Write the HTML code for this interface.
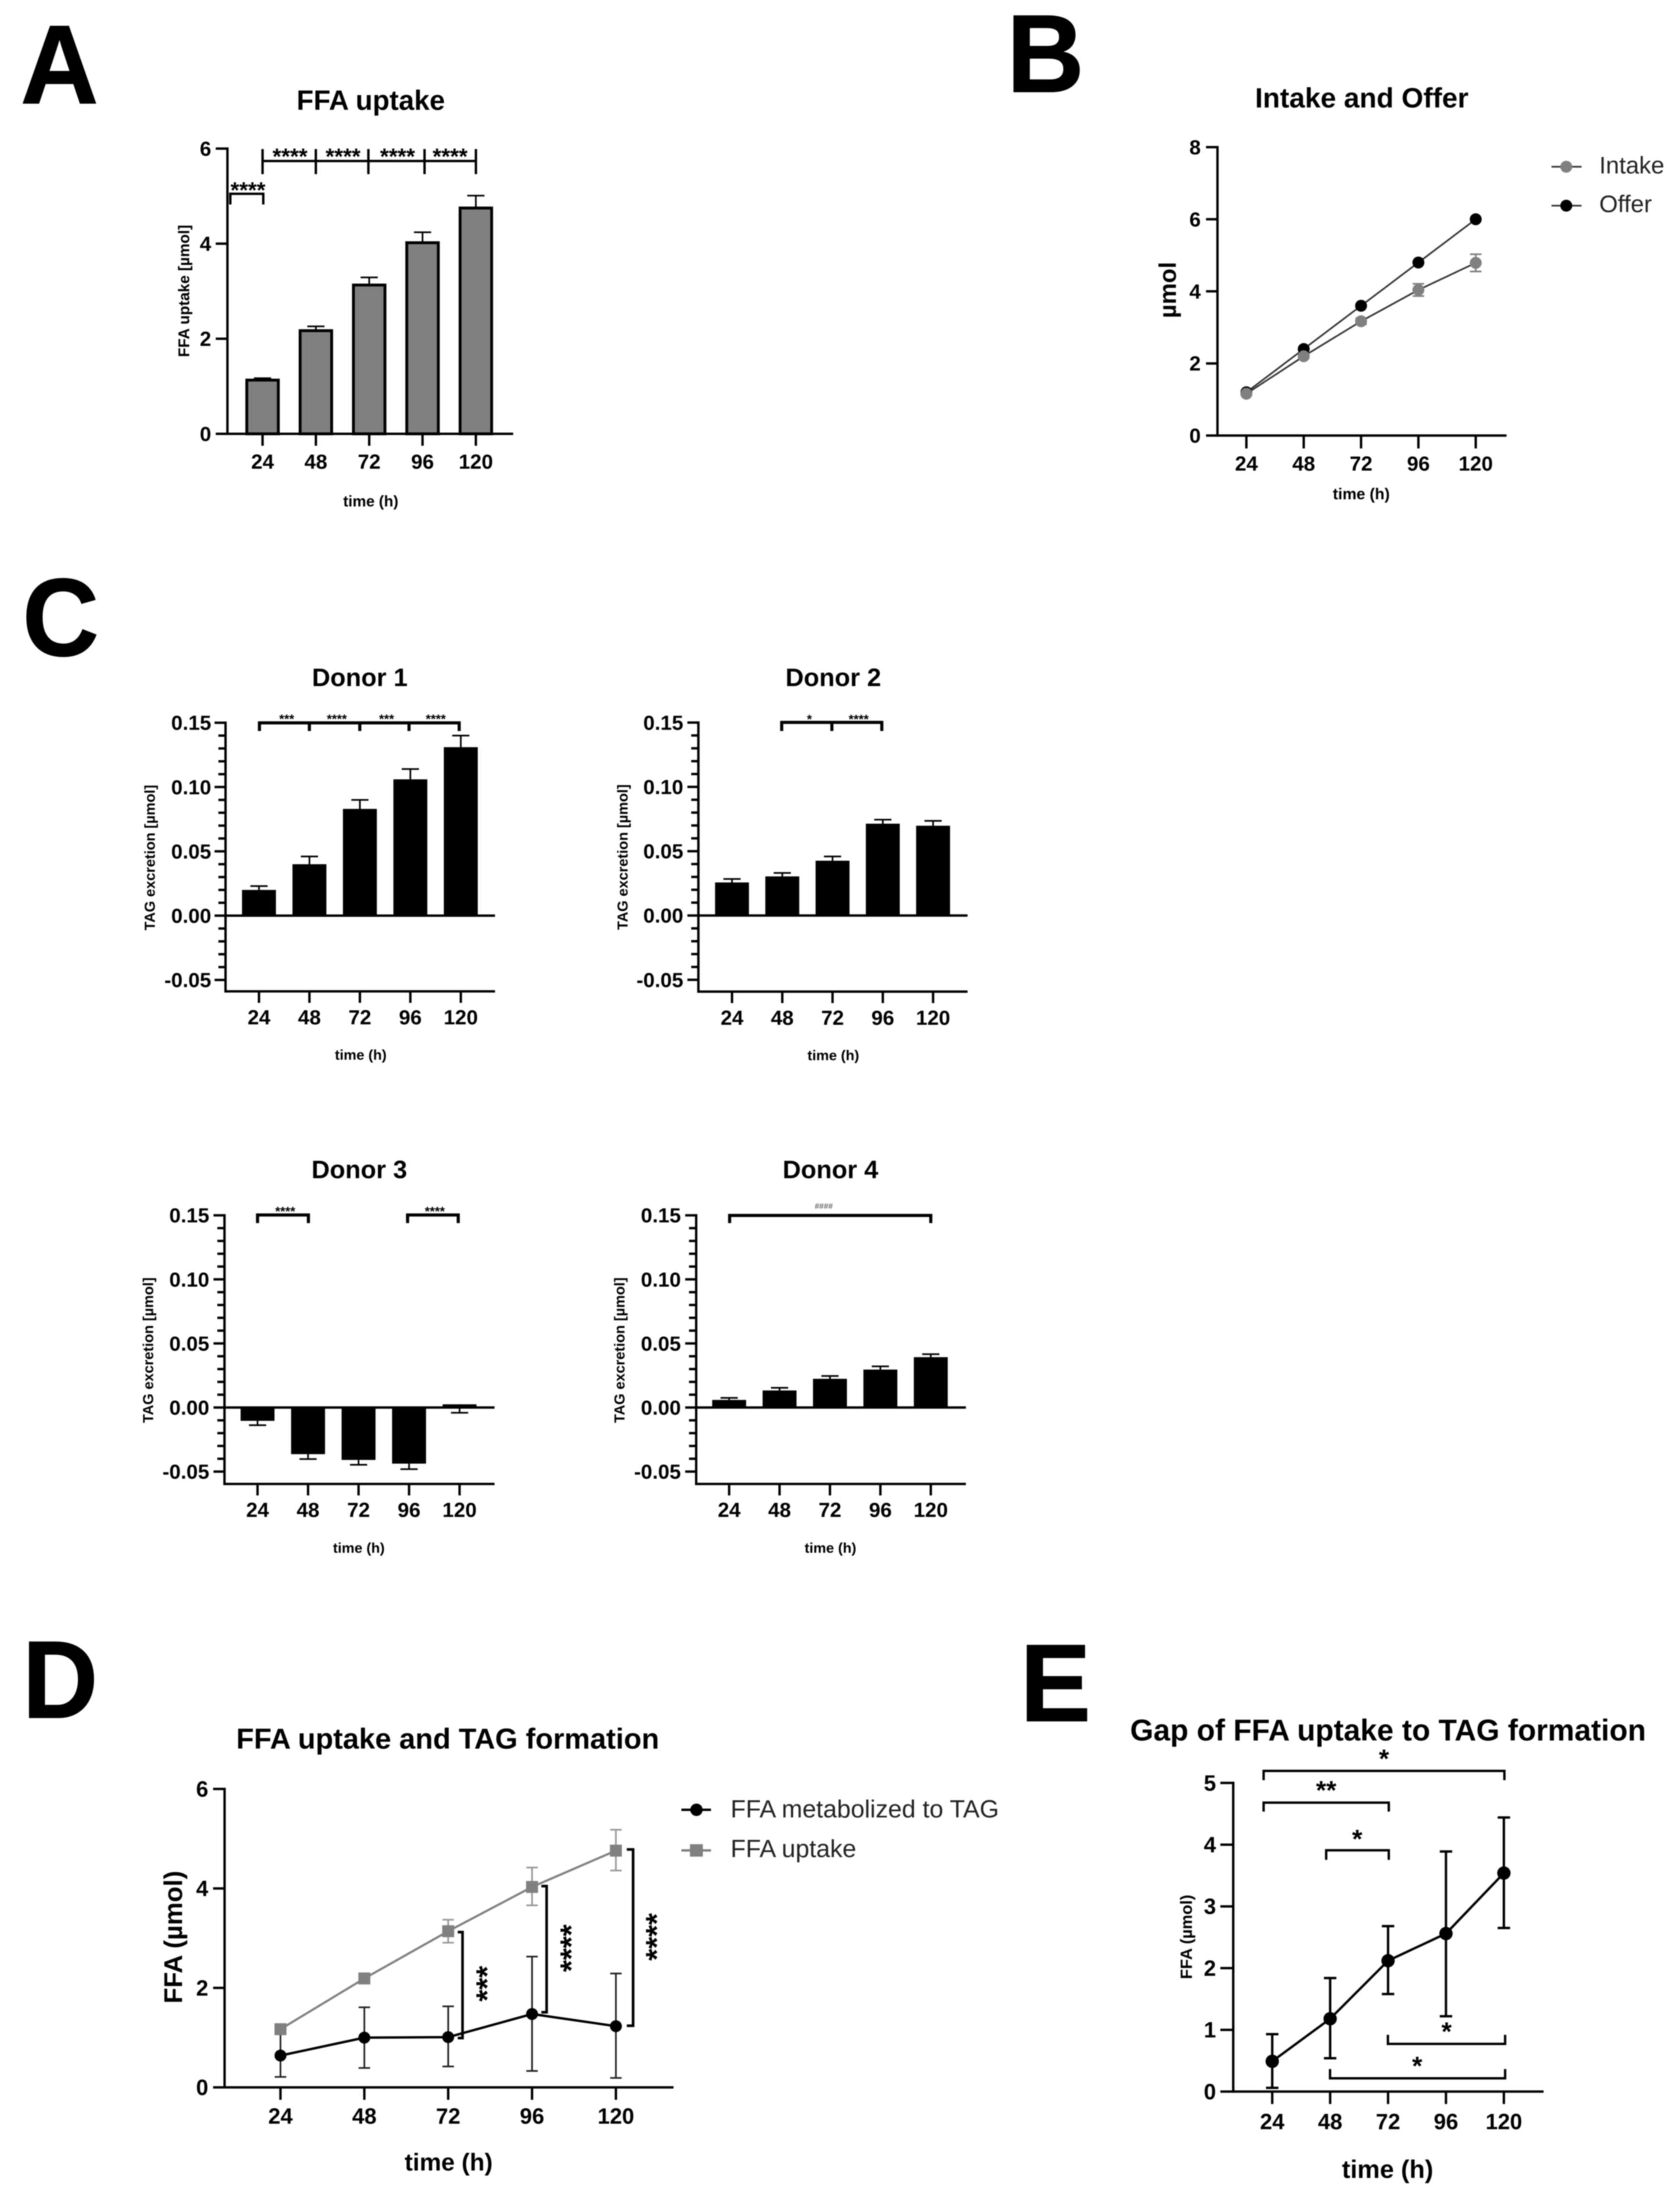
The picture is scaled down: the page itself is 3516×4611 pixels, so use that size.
<!DOCTYPE html>
<html lang="en">
<head>
<meta charset="utf-8">
<title>FFA uptake and TAG formation figure</title>
<style>
html,body{margin:0;padding:0;background:#fff}
#figure{display:block;filter:blur(1px)}
text{font-family:"Liberation Sans",sans-serif;font-weight:700;fill:#000}
.reg{font-weight:400;fill:#222}
.brk{fill:none;stroke:#000;stroke-width:5;stroke-linecap:butt;stroke-linejoin:miter}
.brk-thin{fill:none;stroke:#000;stroke-width:6.5}
.brk-d{fill:none;stroke:#000;stroke-width:5.5}
.letter{stroke:#000;stroke-width:2}
</style>
</head>
<body>
<svg id="figure" xmlns="http://www.w3.org/2000/svg" width="3516" height="4611" viewBox="0 0 3516 4611">
<rect x="0" y="0" width="3516" height="4611" fill="#fff"/>

<!-- Panel letters -->
<text class="letter" x="43" y="216" font-size="234" textLength="163" lengthAdjust="spacingAndGlyphs">A</text>
<text class="letter" x="2107" y="192" font-size="231" textLength="162" lengthAdjust="spacingAndGlyphs">B</text>
<text class="letter" x="47" y="1372" font-size="231" textLength="160" lengthAdjust="spacingAndGlyphs">C</text>
<text class="letter" x="47" y="3595" font-size="230" textLength="158" lengthAdjust="spacingAndGlyphs">D</text>
<text class="letter" x="2135" y="3602" font-size="230" textLength="148" lengthAdjust="spacingAndGlyphs">E</text>

<!-- Panel A text -->
<text x="776" y="230" font-size="58" text-anchor="middle">FFA uptake</text>
<text x="776" y="1060" font-size="32" text-anchor="middle">time (h)</text>
<text x="396" y="609" font-size="32" text-anchor="middle" transform="rotate(-90 396 609)">FFA uptake [µmol]</text>
<path class="brk" d="M549.5 337H996M549.5 312V364.5M661 312V364.5M771 312V364.5M888.5 312V364.5M996 312V364.5"/>
<path class="brk" d="M482 428V405.6H551V428"/>
<text x="519" y="414" font-size="47" text-anchor="middle">****</text>
<text x="607" y="343.5" font-size="47" text-anchor="middle">****</text>
<text x="718" y="343.5" font-size="47" text-anchor="middle">****</text>
<text x="832" y="343.5" font-size="47" text-anchor="middle">****</text>
<text x="942" y="343.5" font-size="47" text-anchor="middle">****</text>

<!-- Panel B text -->
<text x="2850" y="225" font-size="58.7" text-anchor="middle">Intake and Offer</text>
<text x="2849" y="1045" font-size="33" text-anchor="middle">time (h)</text>
<text x="2461" y="607" font-size="50" text-anchor="middle" transform="rotate(-90 2461 607)">µmol</text>
<g>
  <line x1="3247" y1="349" x2="3310" y2="349" stroke="#333" stroke-width="3.5"/>
  <circle cx="3278" cy="349" r="12.5" fill="#808080"/>
  <text class="reg" x="3347" y="363" font-size="50">Intake</text>
  <line x1="3247" y1="430.5" x2="3310" y2="430.5" stroke="#333" stroke-width="3.5"/>
  <circle cx="3278" cy="430.5" r="12.5" fill="#000"/>
  <text class="reg" x="3347" y="444" font-size="50">Offer</text>
</g>

<!-- Donor 1 text -->
<text x="753" y="1436" font-size="53" text-anchor="middle">Donor 1</text>
<text x="755" y="2218" font-size="30" text-anchor="middle">time (h)</text>
<text x="324" y="1795" font-size="30.3" text-anchor="middle" transform="rotate(-90 324 1795)">TAG excretion [µmol]</text>
<path class="brk-thin" d="M540 1513H964M543 1510V1530M647.5 1513V1530M753 1513V1530M856 1513V1530M961 1510V1530"/>
<g font-size="27" text-anchor="middle">
  <text x="600" y="1514">***</text>
  <text x="705" y="1514">****</text>
  <text x="809" y="1514">***</text>
  <text x="912" y="1514">****</text>
</g>

<!-- Donor 2 text -->
<text x="1744" y="1436" font-size="53" text-anchor="middle">Donor 2</text>
<text x="1744" y="2219" font-size="30" text-anchor="middle">time (h)</text>
<text x="1313.6" y="1794" font-size="30.3" text-anchor="middle" transform="rotate(-90 1313.6 1794)">TAG excretion [µmol]</text>
<path class="brk-thin" d="M1633 1512H1848.5M1636 1509V1530M1741 1512V1530M1845.5 1509V1530"/>
<g font-size="27" text-anchor="middle">
  <text x="1694" y="1514.5">*</text>
  <text x="1797" y="1514.5">****</text>
</g>

<!-- Donor 3 text -->
<text x="752" y="2466" font-size="53" text-anchor="middle">Donor 3</text>
<text x="751" y="3250" font-size="30" text-anchor="middle">time (h)</text>
<text x="320.5" y="2826" font-size="30.3" text-anchor="middle" transform="rotate(-90 320.5 2826)">TAG excretion [µmol]</text>
<path class="brk-thin" d="M539 2560V2543H645.4V2560"/>
<path class="brk-thin" d="M853 2560V2543H959V2560"/>
<g font-size="27" text-anchor="middle">
  <text x="597" y="2544.5">****</text>
  <text x="910" y="2544.5">****</text>
</g>

<!-- Donor 4 text -->
<text x="1738" y="2466" font-size="53" text-anchor="middle">Donor 4</text>
<text x="1738" y="3250" font-size="30" text-anchor="middle">time (h)</text>
<text x="1307" y="2826" font-size="30.3" text-anchor="middle" transform="rotate(-90 1307 2826)">TAG excretion [µmol]</text>
<path class="brk-thin" d="M1527 2560V2544H1948V2560"/>
<text x="1724" y="2530" font-size="17" text-anchor="middle" style="fill:#666">####</text>

<!-- Panel D text -->
<text x="937" y="3660" font-size="60.6" text-anchor="middle">FFA uptake and TAG formation</text>
<text x="939" y="4543" font-size="51" text-anchor="middle">time (h)</text>
<text x="381" y="4054.5" font-size="54" text-anchor="middle" transform="rotate(-90 381 4054.5)">FFA (µmol)</text>
<g>
  <line x1="1426" y1="3788" x2="1488" y2="3788" stroke="#000" stroke-width="5"/>
  <circle cx="1457.6" cy="3788" r="13" fill="#000"/>
  <text class="reg" x="1529" y="3804" font-size="52">FFA metabolized to TAG</text>
  <line x1="1426" y1="3873" x2="1488" y2="3873" stroke="#808080" stroke-width="5"/>
  <rect x="1444" y="3860" width="27" height="26" fill="#808080"/>
  <text class="reg" x="1529" y="3887" font-size="52">FFA uptake</text>
</g>
<path class="brk-d" d="M958 4044H968V4265.7H958"/>
<path class="brk-d" d="M1133 3947.7H1144V4211.7H1133"/>
<path class="brk-d" d="M1311.7 3871H1325V4240H1311.7"/>
<text x="1041" y="4152" font-size="64" text-anchor="middle" transform="rotate(-90 1041 4152)">***</text>
<text x="1217" y="4077.7" font-size="64" text-anchor="middle" transform="rotate(-90 1217 4077.7)">****</text>
<text x="1396" y="4054" font-size="64" text-anchor="middle" transform="rotate(-90 1396 4054)">****</text>

<!-- Panel E text -->
<text x="2905" y="3643" font-size="62.7" text-anchor="middle">Gap of FFA uptake to TAG formation</text>
<text x="2904" y="4558.5" font-size="53" text-anchor="middle">time (h)</text>
<text x="2494.6" y="4054" font-size="34.3" text-anchor="middle" transform="rotate(-90 2494.6 4054)">FFA (µmol)</text>
<path class="brk" d="M2644.6 3726V3706.6H3148.5V3726"/>
<path class="brk" d="M2644.6 3791.6V3773H2906.5V3791.6"/>
<path class="brk" d="M2775.5 3892.7V3872.7H2906.5V3892.7"/>
<path class="brk" d="M2904.7 4259V4278H3150V4259"/>
<path class="brk" d="M2783.6 4330.6V4350H3150V4330.6"/>
<g font-size="55" text-anchor="middle">
  <text x="2896.5" y="3699.5">*</text>
  <text x="2775.5" y="3765.5">**</text>
  <text x="2840.5" y="3867.5">*</text>
  <text x="3027.5" y="4270.5">*</text>
  <text x="2966" y="4342.5">*</text>
</g>
</svg>

<script>
/* ---------- data: categories and tick labels ---------- */
const timeLabels = ['24', '48', '72', '96', '120'];
const panelATicks = [0, 2, 4, 6];
const panelBTicks = [0, 2, 4, 6, 8];
const panelDTicks = [0, 2, 4, 6];
const panelETicks = [0, 1, 2, 3, 4, 5];
const donorMajorTicks = [-0.05, 0, 0.05, 0.10, 0.15];
const donorMinorTicks = [-0.04, -0.03, -0.02, -0.01, 0.01, 0.02, 0.03, 0.04, 0.06, 0.07, 0.08, 0.09, 0.11, 0.12, 0.13, 0.14];

/* ---------- data: panel A ---------- */
const ffaUptakeBars = [1.13, 2.17, 3.13, 4.02, 4.75];
const ffaUptakeBarErrorEnds = [1.17, 2.26, 3.29, 4.24, 5.01];

/* ---------- data: panel B ---------- */
const intakeValues = [1.16, 2.2, 3.17, 4.04, 4.79];
const intakeUpper = [1.2, 2.26, 3.25, 4.21, 5.03];
const intakeLower = [1.12, 2.14, 3.09, 3.87, 4.55];
const offerValues = [1.2, 2.4, 3.6, 4.8, 6.0];

/* ---------- data: panel C ---------- */
const donor1Bars = [0.02, 0.04, 0.083, 0.106, 0.131];
const donor1ErrorEnds = [0.023, 0.046, 0.09, 0.114, 0.14];
const donor2Bars = [0.0257, 0.0304, 0.0426, 0.0714, 0.0698];
const donor2ErrorEnds = [0.0284, 0.0331, 0.0459, 0.0745, 0.0736];
const donor3Bars = [-0.0104, -0.0364, -0.0409, -0.0438, 0.0025];
const donor3ErrorEnds = [-0.0138, -0.0402, -0.0447, -0.0481, -0.0041];
const donor4Bars = [0.0059, 0.0133, 0.0224, 0.0296, 0.0393];
const donor4ErrorEnds = [0.0075, 0.0154, 0.0246, 0.0321, 0.0416];

/* ---------- data: panel D ---------- */
const tagValues = [0.64, 1.0, 1.01, 1.475, 1.23];
const tagUpper = [1.07, 1.61, 1.63, 2.63, 2.29];
const tagLower = [0.21, 0.39, 0.42, 0.33, 0.19];
const uptakeValues = [1.17, 2.19, 3.14, 4.03, 4.76];
const uptakeUpper = [1.22, 2.26, 3.37, 4.42, 5.18];
const uptakeLower = [1.08, 2.12, 2.91, 3.66, 4.36];

/* ---------- data: panel E ---------- */
const gapValues = [0.49, 1.18, 2.12, 2.56, 3.54];
const gapUpper = [0.93, 1.84, 2.68, 3.89, 4.44];
const gapLower = [0.06, 0.54, 1.58, 1.22, 2.65];

/* ---------- layout of each set of axes ---------- */
const layoutA = {id:'panel-a', axisX:476, firstX:549.5, stepX:111.6, endX:1074, zeroY:908, perUnit:99.5, topValue:6, bottomY:908, font:43, labelRight:442, labelDrop:15, xLabelY:981, lw:5, xTick:25, yTick:24.5};
const layoutB = {id:'panel-b', axisX:2548, firstX:2608.5, stepX:120, endX:3153, zeroY:911.6, perUnit:75.45, topValue:8, bottomY:911.6, font:43, labelRight:2513, labelDrop:15, xLabelY:985, lw:5, xTick:27, yTick:24};
const layoutD1 = {id:'donor-1', axisX:472, firstX:542, stepX:105.6, endX:1036, zeroY:1916.5, perUnit:2692, topValue:0.15, bottomY:2075, font:43, labelRight:442, labelDrop:15, xLabelY:2144, lw:5, xTick:24, yTick:23};
const layoutD2 = {id:'donor-2', axisX:1461.6, firstX:1532, stepX:105.2, endX:2025, zeroY:1916.2, perUnit:2692, topValue:0.15, bottomY:2075.5, font:43, labelRight:1430, labelDrop:15, xLabelY:2145, lw:5, xTick:24, yTick:23};
const layoutD3 = {id:'donor-3', axisX:469.8, firstX:539, stepX:105.7, endX:1035, zeroY:2946, perUnit:2682, topValue:0.15, bottomY:3106, font:43, labelRight:438, labelDrop:15, xLabelY:3175, lw:5, xTick:24, yTick:23};
const layoutD4 = {id:'donor-4', axisX:1457, firstX:1526, stepX:105.5, endX:2021.5, zeroY:2946, perUnit:2682, topValue:0.15, bottomY:3106, font:43, labelRight:1425, labelDrop:15, xLabelY:3175, lw:5, xTick:24, yTick:23};
const layoutD = {id:'panel-d', axisX:470, firstX:587, stepX:175.5, endX:1409.5, zeroY:4369, perUnit:104.1, topValue:6, bottomY:4369, font:46, labelRight:436, labelDrop:16, xLabelY:4445, lw:5, xTick:26, yTick:24};
const layoutE = {id:'panel-e', axisX:2581, firstX:2662.6, stepX:121.2, endX:3230.6, zeroY:4377.8, perUnit:129.2, topValue:5, bottomY:4377.8, font:46, labelRight:2545, labelDrop:16, xLabelY:4456.5, lw:5, xTick:26, yTick:27};

/* ---------- drawing helpers ---------- */
const NS = 'http://www.w3.org/2000/svg';
const figure = document.getElementById('figure');

function shape(tag, props, name) {
  const node = document.createElementNS(NS, tag);
  Object.keys(props).forEach(function (k) { node.setAttribute(k, props[k]); });
  
  
  figure.appendChild(node);
  return node;
}
function stroke(x1, y1, x2, y2, w, color, name) {
  return shape('line', {x1: x1, y1: y1, x2: x2, y2: y2, stroke: color, 'stroke-width': w}, name);
}
function label(str, x, y, size, anchor, name) {
  const t = shape('text', {x: x, y: y, 'font-size': size, 'text-anchor': anchor}, name);
  t.textContent = str;
  return t;
}
function xScale(layout, i) { return layout.firstX + i * layout.stepX; }
function yScale(layout, v) { return layout.zeroY - v * layout.perUnit; }

function drawAxes(layout, majorTicks, minorTicks, decimals) {
  const top = yScale(layout, layout.topValue);
  stroke(layout.axisX, top - layout.lw / 2, layout.axisX, layout.bottomY + layout.lw / 2, layout.lw, '#000', layout.id + '-y-axis');
  stroke(layout.axisX, layout.bottomY, layout.endX, layout.bottomY, layout.lw, '#000', layout.id + '-x-axis');
  if (layout.bottomY !== layout.zeroY) {
    stroke(layout.axisX, layout.zeroY, layout.endX, layout.zeroY, layout.lw, '#000', layout.id + '-zero-line');
  }
  majorTicks.forEach(function (v) {
    const y = yScale(layout, v);
    stroke(layout.axisX - layout.yTick, y, layout.axisX, y, layout.lw, '#000', layout.id + '-y-tick');
    label(v.toFixed(decimals), layout.labelRight, y + layout.labelDrop, layout.font, 'end', layout.id + '-y-tick-label');
  });
  minorTicks.forEach(function (v) {
    const y = yScale(layout, v);
    stroke(layout.axisX - 15, y, layout.axisX, y, layout.lw, '#000', layout.id + '-y-minor-tick');
  });
  timeLabels.forEach(function (text, i) {
    const x = xScale(layout, i);
    stroke(x, layout.bottomY, x, layout.bottomY + layout.xTick, layout.lw, '#000', layout.id + '-x-tick');
    label(text, x, layout.xLabelY, layout.font, 'middle', layout.id + '-x-tick-label');
  });
}

function drawBars(layout, values, errorEnds, fill, outline) {
  values.forEach(function (v, i) {
    const x = xScale(layout, i);
    const y0 = yScale(layout, 0);
    const yv = yScale(layout, v);
    const yEnd = yScale(layout, errorEnds[i]);
    stroke(x, yv, x, yEnd, 3.5, '#000', layout.id + '-error-bar');
    stroke(x - 18, yEnd, x + 18, yEnd, 3.5, '#000', layout.id + '-error-cap');
    const half = outline ? 33 : 35.5;
    shape('rect', {
      x: x - half, y: Math.min(y0, yv), width: half * 2, height: Math.abs(y0 - yv),
      fill: fill, stroke: outline ? '#000' : 'none', 'stroke-width': outline ? 6 : 0
    }, layout.id + '-bar-' + timeLabels[i]);
  });
}

function drawSeries(layout, name, values, upper, lower, style) {
  const pts = values.map(function (v, i) { return xScale(layout, i) + ',' + yScale(layout, v); }).join(' ');
  if (upper && lower) {
    values.forEach(function (v, i) {
      const x = xScale(layout, i);
      stroke(x, yScale(layout, upper[i]), x, yScale(layout, lower[i]), style.errWidth, style.errColor || style.color, name + '-error-bar');
      stroke(x - style.cap, yScale(layout, upper[i]), x + style.cap, yScale(layout, upper[i]), style.errWidth, style.errColor || style.color, name + '-error-cap');
      stroke(x - style.cap, yScale(layout, lower[i]), x + style.cap, yScale(layout, lower[i]), style.errWidth, style.errColor || style.color, name + '-error-cap');
    });
  }
  shape('polyline', {points: pts, fill: 'none', stroke: style.lineColor, 'stroke-width': style.lineWidth}, name + '-line');
  values.forEach(function (v, i) {
    const x = xScale(layout, i);
    const y = yScale(layout, v);
    if (style.square) {
      shape('rect', {x: x - style.size, y: y - style.size, width: style.size * 2, height: style.size * 2, fill: style.color}, name + '-point-' + timeLabels[i]);
    } else {
      shape('circle', {cx: x, cy: y, r: style.size, fill: style.color}, name + '-point-' + timeLabels[i]);
    }
  });
}

/* ---------- panel A ---------- */
drawAxes(layoutA, panelATicks, [], 0);
drawBars(layoutA, ffaUptakeBars, ffaUptakeBarErrorEnds, '#808080', true);

/* ---------- panel B ---------- */
drawAxes(layoutB, panelBTicks, [], 0);
drawSeries(layoutB, 'offer', offerValues, null, null, {color: '#000', lineColor: '#333', lineWidth: 3.5, size: 12.5});
drawSeries(layoutB, 'intake', intakeValues, intakeUpper, intakeLower, {color: '#808080', lineColor: '#333', lineWidth: 3.5, size: 12.5, errWidth: 3.5, cap: 12});

/* ---------- panel C ---------- */
drawAxes(layoutD1, donorMajorTicks, donorMinorTicks, 2);
drawBars(layoutD1, donor1Bars, donor1ErrorEnds, '#000', false);
drawAxes(layoutD2, donorMajorTicks, donorMinorTicks, 2);
drawBars(layoutD2, donor2Bars, donor2ErrorEnds, '#000', false);
drawAxes(layoutD3, donorMajorTicks, donorMinorTicks, 2);
drawBars(layoutD3, donor3Bars, donor3ErrorEnds, '#000', false);
drawAxes(layoutD4, donorMajorTicks, donorMinorTicks, 2);
drawBars(layoutD4, donor4Bars, donor4ErrorEnds, '#000', false);

/* ---------- panel D ---------- */
drawAxes(layoutD, panelDTicks, [], 0);
drawSeries(layoutD, 'ffa-metabolized-to-tag', tagValues, tagUpper, tagLower, {color: '#000', lineColor: '#000', lineWidth: 5, size: 12.5, errWidth: 3.5, errColor: '#222', cap: 12});
drawSeries(layoutD, 'ffa-uptake', uptakeValues, uptakeUpper, uptakeLower, {color: '#808080', lineColor: '#808080', lineWidth: 4.5, size: 12.5, square: true, errWidth: 3.5, errColor: '#999', cap: 12});

/* ---------- panel E ---------- */
drawAxes(layoutE, panelETicks, [], 0);
drawSeries(layoutE, 'uptake-tag-gap', gapValues, gapUpper, gapLower, {color: '#000', lineColor: '#000', lineWidth: 5, size: 14, errWidth: 5, cap: 13});
</script>
</body>
</html>
